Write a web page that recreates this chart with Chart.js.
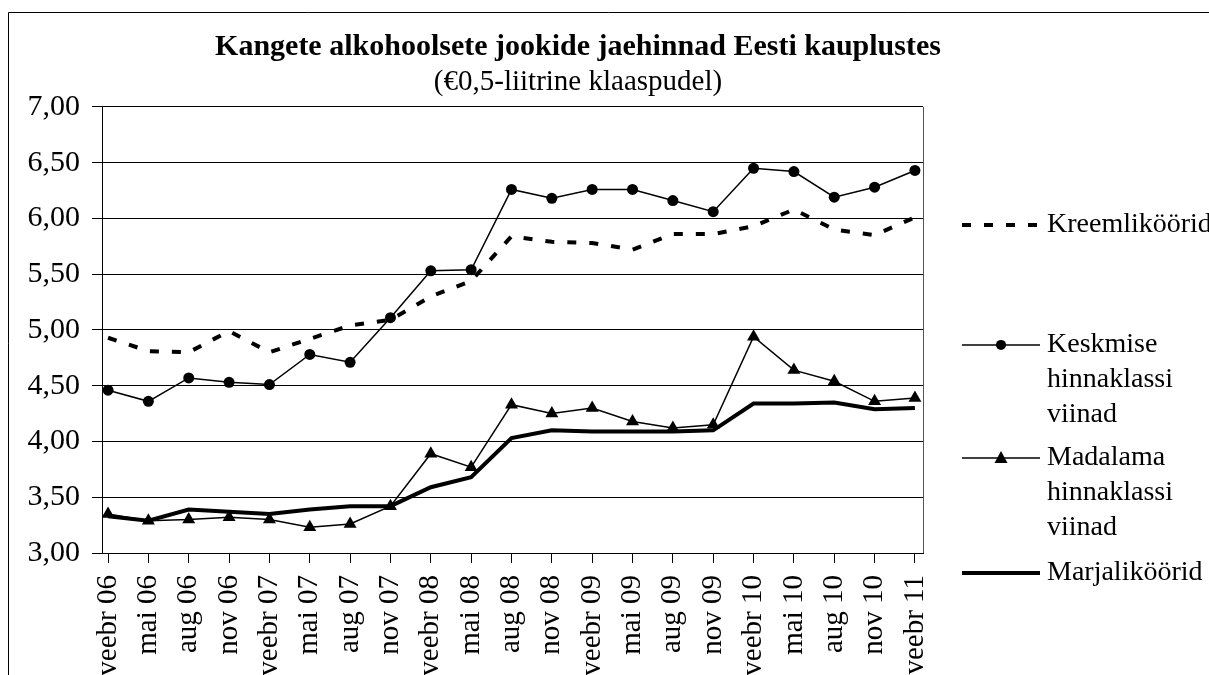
<!DOCTYPE html>
<html>
<head>
<meta charset="utf-8">
<script src="https://cdn.jsdelivr.net/npm/chart.js@4/dist/chart.umd.min.js"></script>
<style>
    html, body { margin: 0; padding: 0; background: #fff; }
    #wrap { width: 1209px; height: 675px; }
</style>
</head>
<body>
<div id="wrap"><canvas id="priceChart" width="1209" height="675"></canvas></div>
<script>
const labels = ['veebr 06', 'mai 06', 'aug 06', 'nov 06', 'veebr 07', 'mai 07', 'aug 07', 'nov 07',
    'veebr 08', 'mai 08', 'aug 08', 'nov 08', 'veebr 09', 'mai 09', 'aug 09', 'nov 09',
    'veebr 10', 'mai 10', 'aug 10', 'nov 10', 'veebr 11'];

const kreem = [4.93, 4.81, 4.80, 4.99, 4.80, 4.92, 5.04, 5.09, 5.30, 5.44, 5.84,
    5.79, 5.78, 5.72, 5.86, 5.86, 5.93, 6.08, 5.90, 5.85, 6.01];
const keskmise = [4.46, 4.36, 4.57, 4.53, 4.51, 4.78, 4.71, 5.11, 5.53, 5.54, 6.26,
    6.18, 6.26, 6.26, 6.16, 6.06, 6.45, 6.42, 6.19, 6.28, 6.43];
const madalama = [3.35, 3.29, 3.30, 3.32, 3.30, 3.23, 3.26, 3.42, 3.89, 3.77, 4.33,
    4.25, 4.30, 4.18, 4.12, 4.15, 4.94, 4.64, 4.54, 4.36, 4.39];
const marja = [3.33, 3.29, 3.39, 3.37, 3.35, 3.39, 3.42, 3.42, 3.59, 3.68, 4.03,
    4.10, 4.09, 4.09, 4.09, 4.10, 4.34, 4.34, 4.35, 4.29, 4.30];

const seriesNames = ['Kreemliköörid', 'Keskmise hinnaklassi viinad', 'Madalama hinnaklassi viinad', 'Marjaliköörid'];

const FONT = '"Liberation Serif", "Times New Roman", serif';

function xy(arr) {
    return arr.map((v, i) => ({ x: i, y: v }));
}

// frame around the whole figure + plot border
const framePlugin = {
    id: 'frame',
    beforeDraw(chart) {
        const ctx = chart.ctx;
        ctx.save();
        ctx.strokeStyle = '#000';
        ctx.lineWidth = 1;
        ctx.beginPath();
        ctx.moveTo(8.5, chart.height);
        ctx.lineTo(8.5, 12.5);
        ctx.lineTo(chart.width, 12.5);
        ctx.stroke();
        ctx.restore();
    },
    afterDraw(chart) {
        const a = chart.chartArea;
        const ctx = chart.ctx;
        ctx.save();
        ctx.strokeStyle = '#555';
        ctx.lineWidth = 1;
        ctx.beginPath();
        ctx.moveTo(Math.round(a.right) + 0.5, a.top);
        ctx.lineTo(Math.round(a.right) + 0.5, a.bottom);
        ctx.stroke();
        ctx.restore();
    }
};

// legend on the right, multi-line entries
const sideLegend = {
    id: 'sideLegend',
    afterDraw(chart) {
        const ctx = chart.ctx;
        const a = chart.chartArea;
        const x0 = a.right + 39, x1 = a.right + 117, tx = a.right + 124;
        const items = [
            { lines: ['Kreemliköörid'], y: a.top + 118, type: 'dash' },
            { lines: ['Keskmise', 'hinnaklassi', 'viinad'], y: a.top + 238, type: 'circle' },
            { lines: ['Madalama', 'hinnaklassi', 'viinad'], y: a.top + 351, type: 'triangle' },
            { lines: ['Marjaliköörid'], y: a.top + 466, type: 'thick' }
        ];
        ctx.save();
        ctx.fillStyle = '#000';
        ctx.strokeStyle = '#000';
        ctx.font = '28px ' + FONT;
        ctx.textBaseline = 'middle';
        ctx.textAlign = 'left';
        items.forEach(it => {
            ctx.beginPath();
            if (it.type === 'dash') {
                ctx.lineWidth = 4;
                ctx.setLineDash([9, 13]);
            } else if (it.type === 'thick') {
                ctx.lineWidth = 4;
                ctx.setLineDash([]);
            } else {
                ctx.lineWidth = 1.5;
                ctx.setLineDash([]);
            }
            ctx.moveTo(x0, it.y);
            ctx.lineTo(x1, it.y);
            ctx.stroke();
            ctx.setLineDash([]);
            const mx = (x0 + x1) / 2;
            if (it.type === 'circle') {
                ctx.beginPath();
                ctx.arc(mx, it.y, 5, 0, Math.PI * 2);
                ctx.fill();
            } else if (it.type === 'triangle') {
                ctx.beginPath();
                ctx.moveTo(mx, it.y - 7);
                ctx.lineTo(mx + 6.5, it.y + 5);
                ctx.lineTo(mx - 6.5, it.y + 5);
                ctx.closePath();
                ctx.fill();
            }
            it.lines.forEach((t, k) => ctx.fillText(t, tx, it.y + k * 35));
        });
        ctx.restore();
    }
};

const ctx = document.getElementById('priceChart').getContext('2d');
new Chart(ctx, {
    type: 'line',
    data: {
        datasets: [
            {
                label: seriesNames[0],
                data: xy(kreem),
                borderColor: '#000',
                borderWidth: 4,
                borderDash: [9, 13],
                pointRadius: 0,
                tension: 0
            },
            {
                label: seriesNames[1],
                data: xy(keskmise),
                borderColor: '#000',
                backgroundColor: '#000',
                borderWidth: 1.5,
                pointStyle: 'circle',
                pointRadius: 5.5,
                pointBorderWidth: 0,
                tension: 0
            },
            {
                label: seriesNames[2],
                data: xy(madalama),
                borderColor: '#000',
                backgroundColor: '#000',
                borderWidth: 1.5,
                pointStyle: 'triangle',
                pointRadius: 7.5,
                pointBorderWidth: 0,
                tension: 0
            },
            {
                label: seriesNames[3],
                data: xy(marja),
                borderColor: '#000',
                borderWidth: 4,
                pointRadius: 0,
                tension: 0
            }
        ]
    },
    options: {
        responsive: false,
        animation: false,
        layout: { padding: { top: 0, left: 0, right: 53, bottom: 0 } },
        plugins: {
            legend: { display: false },
            tooltip: { enabled: false },
            title: {
                display: true,
                text: 'Kangete alkohoolsete jookide jaehinnad Eesti kauplustes',
                color: '#000',
                font: { family: FONT, size: 30, weight: 'bold', lineHeight: 1.1 },
                padding: { top: 31, bottom: 0 }
            },
            subtitle: {
                display: true,
                text: '(€0,5-liitrine klaaspudel)',
                color: '#000',
                font: { family: FONT, size: 29, lineHeight: 1.1 },
                padding: { top: 2, bottom: 9 }
            }
        },
        scales: {
            x: {
                type: 'linear',
                min: -0.15,
                max: 20.2,
                afterBuildTicks(scale) {
                    scale.ticks = labels.map((_, i) => ({ value: i }));
                },
                afterFit(scale) { scale.height = 122; },
                ticks: {
                    autoSkip: false,
                    maxRotation: 90,
                    minRotation: 90,
                    padding: 12,
                    color: '#000',
                    font: { family: FONT, size: 29 },
                    callback: (v) => labels[v]
                },
                grid: { drawOnChartArea: false, drawTicks: true, tickLength: 10, color: '#000' },
                border: { display: true, color: '#000' }
            },
            y: {
                min: 3,
                max: 7,
                afterFit(scale) { scale.width = 102; },
                ticks: {
                    stepSize: 0.5,
                    padding: 12,
                    color: '#000',
                    font: { family: FONT, size: 30 },
                    callback: (v) => v.toFixed(2).replace('.', ',')
                },
                grid: { color: '#000', lineWidth: 1, tickLength: 10 },
                border: { display: true, color: '#000' }
            },
            side: {
                position: 'right',
                display: true,
                afterFit(scale) { scale.width = 233; },
                ticks: { display: false },
                grid: { display: false },
                border: { display: false }
            }
        }
    },
    plugins: [framePlugin, sideLegend]
});
</script>
</body>
</html>
